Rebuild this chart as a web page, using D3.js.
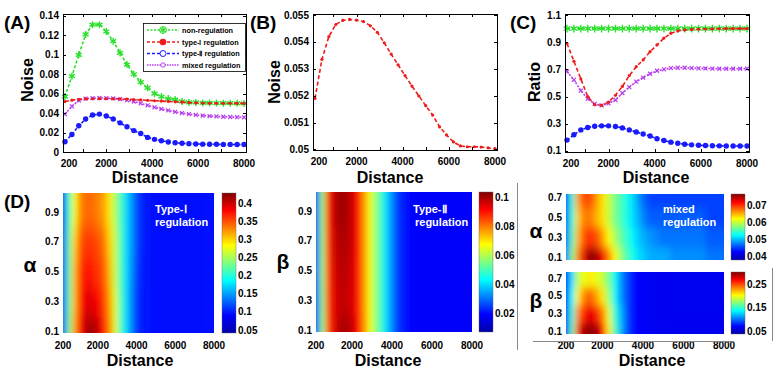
<!DOCTYPE html>
<html><head><meta charset="utf-8">
<script src="https://cdn.jsdelivr.net/npm/d3@7"></script>
<style>body{margin:0;background:#fff}</style>
</head><body>
<script>
// ---------------- data ----------------
const distances = [200,500,800,1100,1400,1700,2000,2300,2600,2900,3200,3500,3800,4100,4400,4700,5000,5300,5600,5900,6200,6500,6800,7100,7400,7700,8000];
const nonReg = [0.057,0.078,0.100,0.121,0.131,0.131,0.124,0.114,0.102,0.090,0.080,0.072,0.066,0.060,0.057,0.055,0.054,0.052,0.051,0.051,0.0505,0.0505,0.0503,0.0502,0.0502,0.0501,0.0500];
const typeI = [0.0519,0.05335,0.0542,0.05465,0.0548,0.05484,0.05481,0.05476,0.0546,0.05436,0.05397,0.05355,0.05315,0.05275,0.05236,0.05199,0.05163,0.05128,0.05084,0.05054,0.05028,0.05013,0.0501,0.0501,0.05009,0.05006,0.05003];
const typeII = [0.0105,0.018,0.027,0.034,0.038,0.039,0.037,0.034,0.030,0.026,0.022,0.019,0.015,0.013,0.0115,0.0103,0.0095,0.009,0.0086,0.0083,0.0081,0.008,0.0079,0.0078,0.0078,0.0077,0.0077];
const mixed = [0.039,0.047,0.053,0.055,0.0555,0.0556,0.0555,0.0551,0.0544,0.0533,0.052,0.050,0.048,0.046,0.0443,0.0428,0.0413,0.040,0.039,0.0382,0.0375,0.037,0.0366,0.0363,0.036,0.0358,0.0357];
const ratioNon = [1,1,1,1,1,1,1,1,1,1,1,1,1,1,1,1,1,1,1,1,1,1,1,1,1,1,1];
const ratioI = [0.89,0.76,0.63,0.50,0.44,0.436,0.46,0.51,0.575,0.655,0.72,0.77,0.83,0.88,0.93,0.965,0.983,0.99,0.994,0.996,0.997,0.998,0.999,1.0,1.0,1.0,1.0];
const ratioMixed = [0.685,0.623,0.544,0.483,0.446,0.436,0.45,0.475,0.525,0.57,0.61,0.64,0.668,0.69,0.70,0.71,0.712,0.712,0.71,0.708,0.707,0.706,0.705,0.705,0.705,0.705,0.705];
const ratioII = [0.18,0.22,0.255,0.273,0.282,0.285,0.285,0.28,0.27,0.255,0.24,0.225,0.21,0.19,0.177,0.165,0.157,0.15,0.145,0.142,0.14,0.139,0.138,0.137,0.137,0.137,0.137];

const xTickLabels = [200,2000,4000,6000,8000];
const xTickMarks = [1000,2000,3000,4000,5000,6000,7000];
const yTicksA = [0,0.02,0.04,0.06,0.08,0.1,0.12,0.14];
const yTicksB = [0.05,0.051,0.052,0.053,0.054,0.055];
const yTicksC = [0.1,0.3,0.5,0.7,0.9,1.1];
const legendLabels = ["non-regulation","type-\u2160 regulation","type-\u2161 regulation","mixed regulation"];

const heatDist = [200,500,800,1100,1400,1700,2000,2300,2600,2900,3200,3500,3800,4100,4400,5000,5600,6200,6800,7400,8000];
const levels5 = [0.1,0.3,0.5,0.7,0.9];
const levels4 = [0.1,0.3,0.5,0.7];
const heatTypeI = [
 [0.11,0.23,0.32,0.38,0.41,0.42,0.40,0.37,0.33,0.27,0.21,0.17,0.13,0.105,0.097,0.095,0.095,0.094,0.094,0.093,0.093],
 [0.11,0.22,0.31,0.37,0.39,0.39,0.38,0.36,0.32,0.27,0.21,0.17,0.13,0.105,0.097,0.095,0.095,0.094,0.094,0.093,0.093],
 [0.11,0.22,0.31,0.36,0.38,0.37,0.36,0.35,0.31,0.26,0.21,0.17,0.135,0.107,0.097,0.095,0.095,0.094,0.094,0.093,0.093],
 [0.11,0.22,0.30,0.35,0.36,0.36,0.35,0.34,0.30,0.26,0.21,0.17,0.14,0.11,0.098,0.095,0.095,0.094,0.094,0.093,0.093],
 [0.10,0.21,0.28,0.33,0.34,0.34,0.33,0.32,0.29,0.25,0.21,0.17,0.14,0.11,0.098,0.095,0.095,0.094,0.094,0.093,0.093]];
const heatTypeII = [
 [0.022,0.055,0.085,0.094,0.099,0.100,0.097,0.091,0.079,0.066,0.057,0.047,0.038,0.029,0.023,0.02,0.019,0.019,0.019,0.019,0.019],
 [0.022,0.055,0.086,0.094,0.097,0.097,0.095,0.090,0.078,0.066,0.057,0.047,0.038,0.029,0.023,0.02,0.019,0.019,0.019,0.019,0.019],
 [0.022,0.056,0.086,0.095,0.098,0.098,0.095,0.090,0.078,0.066,0.057,0.047,0.038,0.029,0.023,0.02,0.019,0.019,0.019,0.019,0.019],
 [0.022,0.056,0.087,0.096,0.099,0.099,0.096,0.090,0.078,0.066,0.057,0.047,0.038,0.029,0.023,0.02,0.019,0.019,0.019,0.019,0.019],
 [0.022,0.056,0.088,0.097,0.101,0.100,0.096,0.090,0.078,0.066,0.057,0.047,0.038,0.029,0.023,0.02,0.019,0.019,0.019,0.019,0.019]];
const heatMixedAlpha = [
 [0.047,0.057,0.067,0.073,0.076,0.075,0.072,0.067,0.062,0.058,0.055,0.053,0.051,0.050,0.049,0.049,0.048,0.048,0.048,0.047,0.047],
 [0.046,0.055,0.065,0.069,0.070,0.069,0.066,0.062,0.059,0.056,0.054,0.052,0.050,0.049,0.048,0.047,0.047,0.047,0.047,0.046,0.046],
 [0.046,0.054,0.064,0.067,0.067,0.065,0.063,0.060,0.057,0.055,0.053,0.051,0.049,0.047,0.046,0.046,0.046,0.046,0.046,0.045,0.045],
 [0.045,0.054,0.066,0.069,0.069,0.066,0.063,0.060,0.057,0.055,0.053,0.051,0.048,0.046,0.045,0.045,0.045,0.045,0.045,0.045,0.045]];
const heatMixedBeta = [
 [0.08,0.16,0.27,0.30,0.30,0.30,0.27,0.21,0.16,0.12,0.09,0.075,0.07,0.068,0.066,0.065,0.065,0.065,0.065,0.065,0.065],
 [0.08,0.15,0.24,0.27,0.28,0.27,0.24,0.20,0.15,0.12,0.09,0.075,0.07,0.068,0.066,0.065,0.065,0.065,0.065,0.065,0.065],
 [0.08,0.14,0.21,0.24,0.25,0.23,0.21,0.18,0.14,0.11,0.09,0.075,0.07,0.068,0.066,0.065,0.065,0.065,0.065,0.065,0.065],
 [0.08,0.13,0.19,0.20,0.21,0.20,0.19,0.17,0.14,0.11,0.09,0.075,0.07,0.068,0.066,0.065,0.065,0.065,0.065,0.065,0.065]];
const cbTicksI = [0.05,0.1,0.15,0.2,0.25,0.3,0.35,0.4];
const cbTicksII = [0.02,0.04,0.06,0.08,0.1];
const cbTicksMA = [0.04,0.05,0.06,0.07];
const cbTicksMB = [0.05,0.15,0.25];

// ---------------- drawing ----------------
const W = 781, H = 375;
const FONT = "'Liberation Sans', Arial, Helvetica, sans-serif";
const svg = d3.select("body").append("svg").attr("width", W).attr("height", H)
  .style("font-family", FONT).style("font-weight", "bold");
const defs = svg.append("defs");

const jet = d3.scaleLinear()
  .domain([0, 0.125, 0.375, 0.625, 0.875, 1])
  .range(["#0000a8", "#0000ff", "#00ffff", "#ffff00", "#ff0000", "#800000"])
  .interpolate(d3.interpolateRgb).clamp(true);

function text(g, x, y, s, size, anchor, extra) {
  const t = g.append("text").attr("x", x).attr("y", y).text(s)
    .attr("font-size", size).attr("text-anchor", anchor || "start").attr("fill", "#000");
  if (extra) extra(t);
  return t;
}

function marker(g, type, cx, cy, color, sz) {
  if (type === "star") {
    g.append("path").attr("d", d3.symbol(d3.symbolAsterisk, sz || 36)())
      .attr("transform", `translate(${cx},${cy})`).attr("stroke", color).attr("stroke-width", 1.4).attr("fill", "none");
  } else if (type === "dot") {
    g.append("circle").attr("cx", cx).attr("cy", cy).attr("r", sz || 1.6).attr("fill", color);
  } else if (type === "circle") {
    g.append("circle").attr("cx", cx).attr("cy", cy).attr("r", sz || 2.8).attr("fill", color);
  } else if (type === "x") {
    g.append("path").attr("d", d3.symbol(d3.symbolTimes, sz || 14)())
      .attr("transform", `translate(${cx},${cy})`).attr("stroke", color).attr("stroke-width", 1.2).attr("fill", "none");
  }
}

function linePanel(p) {
  const g = svg.append("g");
  const x = d3.scaleLinear().domain([200, 8000]).range([p.L + 2, p.R - 2]);
  const y = d3.scaleLinear().domain(p.yDomain).range([p.B, p.T]);
  const cid = "clip" + p.id;
  defs.append("clipPath").attr("id", cid).append("rect")
    .attr("x", p.L - 4).attr("y", p.T - 4).attr("width", p.R - p.L + 8).attr("height", p.B - p.T + 8);
  const sg = g.append("g").attr("clip-path", `url(#${cid})`);
  p.series.forEach(s => {
    const line = d3.line().x((d, i) => x(distances[i])).y(d => y(d));
    sg.append("path").attr("d", line(s.values)).attr("fill", "none")
      .attr("stroke", s.color).attr("stroke-width", 1.6).attr("stroke-dasharray", s.dash);
    s.values.forEach((v, i) => marker(sg, s.marker, x(distances[i]), y(v), s.color, s.size));
  });
  xTickMarks.forEach(v => {
    const xx = Math.round(x(v)) + 0.5;
    g.append("line").attr("x1", xx).attr("x2", xx).attr("y1", p.B).attr("y2", p.B - 3).attr("stroke", "#000");
    g.append("line").attr("x1", xx).attr("x2", xx).attr("y1", p.T).attr("y2", p.T + 3).attr("stroke", "#000");
  });
  p.yTicks.forEach(v => {
    const yy = Math.round(y(v)) + 0.5;
    g.append("line").attr("x1", p.L).attr("x2", p.L + 3).attr("y1", yy).attr("y2", yy).attr("stroke", "#000");
    g.append("line").attr("x1", p.R).attr("x2", p.R - 3).attr("y1", yy).attr("y2", yy).attr("stroke", "#000");
    text(g, p.L - 4, y(v) + 3.5, String(v), 10, "end");
  });
  xTickLabels.forEach((v, i) => text(g, x(v) + (i === 0 ? 4 : 0), p.B + 15, String(v), 10, "middle"));
  g.append("rect").attr("x", p.L + 0.5).attr("y", p.T + 0.5).attr("width", p.R - p.L).attr("height", p.B - p.T)
    .attr("fill", "none").attr("stroke", "#000").attr("stroke-width", 1);
  return g;
}

const green = "#2ee02e", red = "#ee1c1c", blue = "#1a1aff", purple = "#b83cf0";

linePanel({id: "A", L: 63, R: 246, T: 14, B: 152, yDomain: [0, 0.142], yTicks: yTicksA,
  series: [
    {values: nonReg, color: green, dash: "3,2", marker: "star", size: 34},
    {values: mixed, color: purple, dash: "2,1.5", marker: "x", size: 12},
    {values: typeI, color: red, dash: "4,2.5", marker: "dot", size: 1.6},
    {values: typeII, color: blue, dash: "3,2", marker: "circle", size: 2.7}
  ]});
linePanel({id: "B", L: 313, R: 497, T: 14, B: 150, yDomain: [0.04998, 0.05504], yTicks: yTicksB,
  series: [{values: typeI, color: red, dash: "4,2.5", marker: "dot", size: 1.6}]});
linePanel({id: "C", L: 565, R: 749, T: 14, B: 152, yDomain: [0.0926, 1.1074], yTicks: yTicksC,
  series: [
    {values: ratioNon, color: green, dash: "3,2", marker: "star", size: 40},
    {values: ratioMixed, color: purple, dash: "2,1.5", marker: "x", size: 12},
    {values: ratioI, color: red, dash: "4,2.5", marker: "dot", size: 1.6},
    {values: ratioII, color: blue, dash: "3,2", marker: "circle", size: 2.7}
  ]});

// legend in A
{
  const lg = svg.append("g");
  lg.append("rect").attr("x", 143.5).attr("y", 23.5).attr("width", 102).attr("height", 48)
    .attr("fill", "#fff").attr("stroke", "#000").attr("stroke-width", 0.8);
  const cols = [green, red, blue, purple];
  const dashes = ["2,1.5", "3,2", "3,2", "1.5,1"];
  const ys = [30, 42, 53.5, 65];
  legendLabels.forEach((lab, i) => {
    lg.append("line").attr("x1", 147).attr("x2", 179).attr("y1", ys[i]).attr("y2", ys[i])
      .attr("stroke", cols[i]).attr("stroke-width", 1.4).attr("stroke-dasharray", dashes[i]);
    if (i === 0) {
      lg.append("circle").attr("cx", 163).attr("cy", ys[i]).attr("r", 3.5).attr("fill", "#fff").attr("stroke", green).attr("stroke-width", 1);
      marker(lg, "star", 163, ys[i], green, 26);
    } else if (i === 1) {
      lg.append("circle").attr("cx", 163).attr("cy", ys[i]).attr("r", 3.3).attr("fill", red);
    } else if (i === 2) {
      lg.append("circle").attr("cx", 163).attr("cy", ys[i]).attr("r", 3).attr("fill", "#fff").attr("stroke", blue).attr("stroke-width", 1);
    } else {
      lg.append("circle").attr("cx", 163).attr("cy", ys[i]).attr("r", 2.2).attr("fill", "#fff").attr("stroke", purple).attr("stroke-width", 1);
    }
    text(lg, 182, ys[i] + 2.6, lab, 7.3, "start");
  });
}

// heatmaps
function heatmap(p) {
  const x = d3.scaleLinear().domain([200, 8000]).range([p.L, p.R]);
  const y = d3.scaleLinear().domain(p.yDomain).range([p.B, p.T]);
  const norm = d3.scaleLinear().domain(p.cDomain).range([0, 1]).clamp(true);
  const color = v => jet(norm(v));
  const cid = "hclip" + p.id, fid = "hblur" + p.id;
  defs.append("clipPath").attr("id", cid).append("rect")
    .attr("x", p.L).attr("y", p.T).attr("width", p.R - p.L).attr("height", p.B - p.T);
  const f = defs.append("filter").attr("id", fid).attr("filterUnits", "userSpaceOnUse")
    .attr("x", 0).attr("y", 0).attr("width", W).attr("height", H);
  f.append("feGaussianBlur").attr("stdDeviation", p.blur);
  const g = svg.append("g").attr("clip-path", `url(#${cid})`).append("g").attr("filter", `url(#${fid})`);
  const nC = heatDist.length, nR = p.levels.length;
  const cells = [];
  p.values.forEach((row, i) => row.forEach((v, j) => cells.push({i, j, v})));
  const xl = j => j === 0 ? p.L - 40 : x((heatDist[j - 1] + heatDist[j]) / 2);
  const xr = j => j === nC - 1 ? p.R + 40 : x((heatDist[j] + heatDist[j + 1]) / 2);
  const yt = i => i === nR - 1 ? p.T - 40 : y((p.levels[i] + p.levels[i + 1]) / 2);
  const yb = i => i === 0 ? p.B + 40 : y((p.levels[i - 1] + p.levels[i]) / 2);
  g.selectAll("rect").data(cells).join("rect")
    .attr("x", d => xl(d.j)).attr("width", d => xr(d.j) - xl(d.j) + 0.6)
    .attr("y", d => yt(d.i)).attr("height", d => yb(d.i) - yt(d.i) + 0.6)
    .attr("fill", d => color(d.v));

  p.levels.forEach(v => text(svg, p.L - 4, y(v) + 3.5, String(v), 10, "end"));
  if (p.xLabels) xTickLabels.forEach(v => text(svg, x(v), 349, String(v), 10, "middle"));

  const gid = "grad" + p.id;
  const grad = defs.append("linearGradient").attr("id", gid)
    .attr("x1", 0).attr("y1", 1).attr("x2", 0).attr("y2", 0);
  d3.range(0, 41).forEach(k => {
    const t = k / 40;
    grad.append("stop").attr("offset", t).attr("stop-color", color(p.cDomain[0] + t * (p.cDomain[1] - p.cDomain[0])));
  });
  svg.append("rect").attr("x", p.cbX).attr("y", p.T).attr("width", 14).attr("height", p.B - p.T)
    .attr("fill", `url(#${gid})`).attr("stroke", "#666").attr("stroke-width", 0.4);
  const cy = d3.scaleLinear().domain(p.cDomain).range([p.B, p.T]);
  p.cbTicks.forEach(v => text(svg, p.cbX + 16, cy(v) + 3.5, String(v), 10, "start"));
}

heatmap({id: "D1", L: 63, R: 214, T: 193, B: 333, yDomain: [0.087, 1.03], levels: levels5,
  values: heatTypeI, cDomain: [0.042, 0.428], cbX: 222, cbTicks: cbTicksI, blur: "3 9", xLabels: true});
heatmap({id: "D2", L: 316, R: 472, T: 192, B: 332, yDomain: [0.087, 1.03], levels: levels5,
  values: heatTypeII, cDomain: [0.0076, 0.1035], cbX: 479, cbTicks: cbTicksII, blur: "3 9", xLabels: true});
heatmap({id: "E1", L: 566, R: 724, T: 194, B: 260, yDomain: [0.07, 0.73], levels: levels4,
  values: heatMixedAlpha, cDomain: [0.0377, 0.0765], cbX: 731, cbTicks: cbTicksMA, blur: "3 5", xLabels: false});
heatmap({id: "E2", L: 566, R: 724, T: 272, B: 334, yDomain: [0.066, 0.77], levels: levels4,
  values: heatMixedBeta, cDomain: [0.037, 0.306], cbX: 731, cbTicks: cbTicksMB, blur: "3 5", xLabels: true});

[["Type-\u2160", 155, 213], ["regulation", 155, 226], ["Type-\u2161", 413, 213], ["regulation", 415, 226],
 ["mixed", 663, 213], ["regulation", 663, 226]].forEach(a =>
  text(svg, a[1], a[2], a[0], 11, "start", t => t.attr("fill", "#fff")));

const fr = svg.append("g").attr("stroke", "#888").attr("stroke-width", 1);
fr.append("line").attr("x1", 517.5).attr("x2", 517.5).attr("y1", 183).attr("y2", 350);
fr.append("line").attr("x1", 533).attr("x2", 734).attr("y1", 341.5).attr("y2", 341.5);
fr.append("line").attr("x1", 772.5).attr("x2", 772.5).attr("y1", 268).attr("y2", 341);

const rot = (x, y, s) => svg.append("text").attr("transform", `translate(${x},${y}) rotate(-90)`)
  .attr("text-anchor", "middle").attr("dy", "0.35em").attr("font-size", 16).text(s);
rot(27, 80, "Noise");
rot(274, 82, "Noise");
rot(534, 82, "Ratio");
[[145, 183], [390, 183], [656, 183], [140, 366], [388, 366], [652, 366]].forEach(p =>
  text(svg, p[0], p[1], "Distance", 16, "middle"));
text(svg, 30, 272, "\u03b1", 21, "middle");
text(svg, 283, 269, "\u03b2", 21, "middle");
text(svg, 536, 238, "\u03b1", 21, "middle");
text(svg, 536, 308, "\u03b2", 21, "middle");

text(svg, 4, 29, "(A)", 19, "start");
text(svg, 250, 29, "(B)", 19, "start");
text(svg, 510, 29, "(C)", 19, "start");
text(svg, 4, 208, "(D)", 19, "start");
</script>
</body></html>
